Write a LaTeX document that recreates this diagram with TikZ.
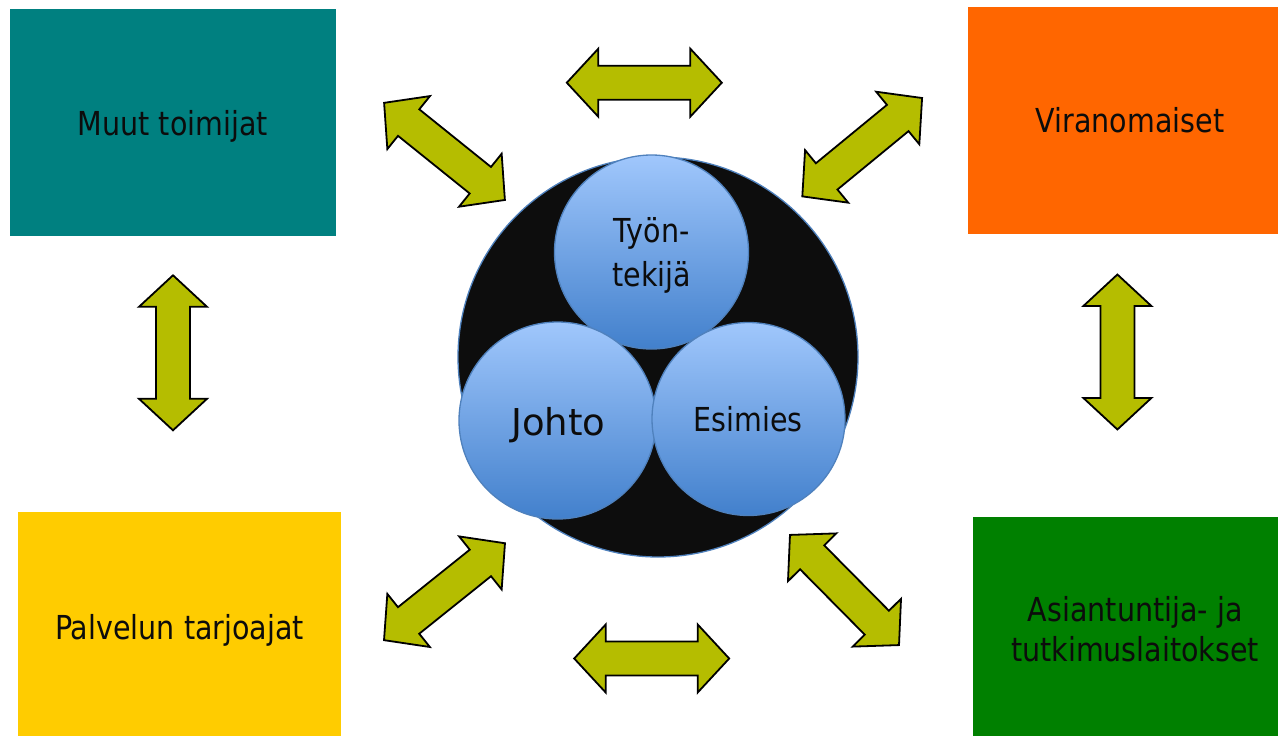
\documentclass[tikz,border=0pt]{standalone}
\usepackage{fontspec}
\newfontfamily\tfont{DejaVu Sans}[FakeStretch=0.865]
\newfontfamily\jfont{DejaVu Sans}
\definecolor{boxteal}{RGB}{0,128,128}
\definecolor{boxorange}{RGB}{255,102,0}
\definecolor{boxyellow}{RGB}{255,204,0}
\definecolor{boxgreen}{RGB}{0,128,0}
\definecolor{arrowfill}{RGB}{181,189,0}
\definecolor{ringline}{RGB}{79,129,189}
\definecolor{balltop}{RGB}{160,199,252}
\definecolor{ballbottom}{RGB}{66,128,204}
\definecolor{txt}{RGB}{12,12,12}
\definecolor{corefill}{RGB}{13,13,13}
\tikzset{
  box/.style={rectangle, draw=none, inner sep=0pt, anchor=north west},
  lbl/.style={inner sep=0pt, anchor=base, text=txt, font=\tfont\fontsize{33}{40}\selectfont},
  ball/.style={circle, inner sep=0pt, draw=ringline, line width=1.3pt,
    top color=balltop, bottom color=ballbottom},
  arrowstyle/.style={draw=black, fill=arrowfill, line width=1.8pt, line join=miter},
  dblarr/.pic={\draw[arrowstyle] (-77.5,0) -- (-46,34) -- (-46,17) -- (46,17) -- (46,34)
     -- (77.5,0) -- (46,-34) -- (46,-17) -- (-46,-17) -- (-46,-34) -- cycle;}
}
\begin{document}
\begin{tikzpicture}[x=1pt,y=-1pt]
\useasboundingbox[fill=white] (0,0) rectangle (1278,736);

% boxes
\node[box, fill=boxteal, minimum width=325.5pt, minimum height=226.5pt] (muut) at (10,9) {};
\node[box, fill=boxorange, minimum width=310.5pt, minimum height=226.5pt] (viran) at (967.5,7) {};
\node[box, fill=boxyellow, minimum width=323pt, minimum height=224pt] (palv) at (18,512) {};
\node[box, fill=boxgreen, minimum width=305pt, minimum height=219pt] (asia) at (973,517) {};

\node[lbl] (tmuut) at (172.8,135) {Muut toimijat};
\node[lbl] (tviran) at (1130,132.3) {Viranomaiset};
\node[lbl] (tpalv) at (179.5,639) {Palvelun tarjoajat};
\node[lbl] (tasia1) at (1135.3,621.7) {Asiantuntija- ja};
\node[lbl] (tasia2) at (1135,661.7) {tutkimuslaitokset};

% central circle
\node[circle, inner sep=0pt, minimum size=400pt, fill=corefill,
      draw=ringline, line width=1.3pt] (core) at (658,357) {};
\node[ball, minimum size=194pt] (tyon) at (651.5,252) {};
\node[ball, minimum size=197pt] (johto) at (557.5,420.5) {};
\node[ball, minimum size=193pt] (esim) at (748.5,419) {};

\node[lbl] (ttyon1) at (651.5,242.3) {Työn-};
\node[lbl] (ttyon2) at (652,286.7) {tekijä};
\node[lbl, font=\jfont\fontsize{37}{40}\selectfont] (tjohto) at (558.5,435) {Johto};
\node[lbl] (tesim) at (748,431.7) {Esimies};

% arrows
\pic (atop) at (644.3,82.7) {dblarr};
\pic (abot) at (651.7,658.5) {dblarr};
\pic (aleft) [rotate=90] at (173,352.8) {dblarr};
\pic (aright) [rotate=90] at (1117.4,352) {dblarr};
\pic (atl) [rotate=-38.8] at (444.5,151.4) {dblarr};
\pic (atr) [rotate=39.4] at (862.2,147.2) {dblarr};
\pic (abl) [rotate=38.7] at (444.5,591.7) {dblarr};
\pic (abr) [rotate=-45.3] at (844.5,590) {dblarr};
\end{tikzpicture}
\end{document}
